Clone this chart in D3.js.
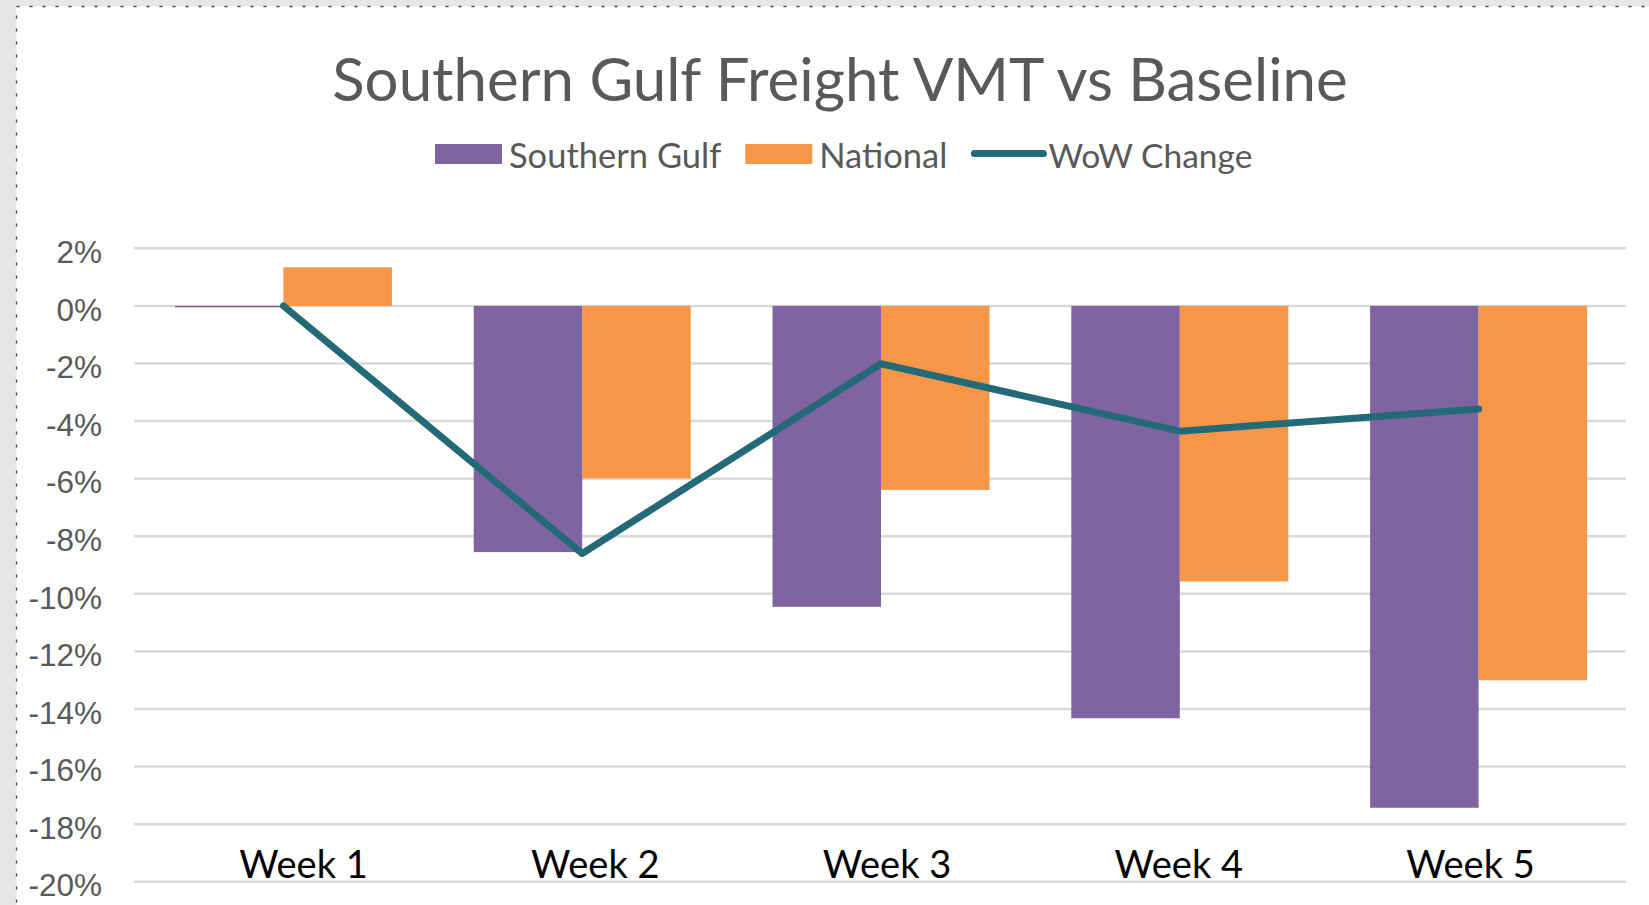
<!DOCTYPE html>
<html>
<head>
<meta charset="utf-8">
<script src="https://cdn.jsdelivr.net/npm/d3@7"></script>
<style>
  body { margin: 0; background: #e6e6e6; }
  svg { display: block; }
</style>
</head>
<body>
<div class="chartArea"></div>
<script>
const weeks = ["Week 1", "Week 2", "Week 3", "Week 4", "Week 5"];
const southernGulf = [-0.05, -8.55, -10.45, -14.32, -17.43];
const national = [1.34, -5.99, -6.39, -9.57, -13.0];
const wowChange = [0, -8.6, -2.01, -4.35, -3.58];
const yTicks = [2, 0, -2, -4, -6, -8, -10, -12, -14, -16, -18, -20];
const seriesNames = ["Southern Gulf", "National", "WoW Change"];

const width = 1649;
const height = 905;
const colors = {"Southern Gulf": "#8064a2", "National": "#f79646", "WoW Change": "#246978"};

const svg = d3.select(".chartArea")
    .append("svg")
    .attr("width", width)
    .attr("height", height);

// white chart area with dotted frame
svg.append("rect")
    .attr("x", 16.5)
    .attr("y", 6.5)
    .attr("width", width)
    .attr("height", height)
    .attr("fill", "#fff")
    .attr("stroke", "#444")
    .attr("stroke-width", 1.3)
    .attr("stroke-dasharray", "3,10");

const xScale = d3.scaleBand()
    .domain(weeks)
    .range([134, 1628])
    .padding(0);

const xInner = d3.scaleBand()
    .domain(["Southern Gulf", "National"])
    .range([0, xScale.bandwidth()])
    .paddingOuter(0.377)
    .paddingInner(0);

// the category labels sit on a slightly narrower spread than the bars
const labelScale = d3.scalePoint()
    .domain(weeks)
    .range([303, 1470]);

const yScale = d3.scaleLinear()
    .domain([-20, 2])
    .range([881.8, 248.3]);

// gridlines
svg.append("g")
    .selectAll("line")
    .data(yTicks)
    .enter()
    .append("line")
    .attr("x1", 134)
    .attr("x2", 1626)
    .attr("y1", d => yScale(d))
    .attr("y2", d => yScale(d))
    .attr("stroke", "#d9d9d9")
    .attr("stroke-width", 2.5);

const yAxis = d3.axisLeft(yScale)
    .tickValues(yTicks)
    .tickSize(0)
    .tickPadding(32)
    .tickFormat(d => d + "%");
const yG = svg.append("g")
    .attr("transform", "translate(134,0)")
    .call(yAxis);
yG.select(".domain").remove();
yG.selectAll("text")
    .attr("dy", "0.45em")
    .style("font-family", "'Liberation Sans', Arial, sans-serif")
    .style("font-size", "31.5px")
    .attr("fill", "#595959");

// bars
const barData = [];
weeks.forEach((w, i) => {
    barData.push({week: w, series: "Southern Gulf", value: southernGulf[i]});
    barData.push({week: w, series: "National", value: national[i]});
});

svg.append("g")
    .selectAll("rect")
    .data(barData)
    .enter()
    .append("rect")
    .attr("x", d => xScale(d.week) + xInner(d.series))
    .attr("y", d => yScale(Math.max(0, d.value)))
    .attr("width", xInner.bandwidth())
    .attr("height", d => Math.abs(yScale(d.value) - yScale(0)))
    .attr("fill", d => colors[d.series]);

// WoW line
const line = d3.line()
    .x((d, i) => xScale(weeks[i]) + xScale.bandwidth() / 2)
    .y(d => yScale(d));

svg.append("path")
    .datum(wowChange)
    .attr("d", line)
    .attr("fill", "none")
    .attr("stroke", colors["WoW Change"])
    .attr("stroke-width", 7)
    .attr("stroke-linejoin", "round")
    .attr("stroke-linecap", "round");

// category labels
const xAxis = d3.axisBottom(labelScale).tickSize(0).tickPadding(0);
const xG = svg.append("g")
    .attr("transform", "translate(0," + yScale(-19.88) + ")")
    .call(xAxis);
xG.select(".domain").remove();
xG.selectAll("text")
    .attr("dy", 0)
    .style("font-family", "Lato, sans-serif")
    .style("font-size", "38px")
    .attr("fill", "#000");

// title
svg.append("text")
    .attr("x", 840)
    .attr("y", 101)
    .attr("text-anchor", "middle")
    .style("font-family", "Lato, sans-serif")
    .style("font-size", "60px")
    .attr("fill", "#595959")
    .text("Southern Gulf Freight VMT vs Baseline");

// legend
const legend = svg.append("g");
let lx = 435;
seriesNames.forEach((name, i) => {
    if (name === "WoW Change") {
        legend.append("line")
            .attr("x1", lx + 3)
            .attr("x2", lx + 72)
            .attr("y1", 153.5)
            .attr("y2", 153.5)
            .attr("stroke", colors[name])
            .attr("stroke-width", 7)
            .attr("stroke-linecap", "round");
        lx += 77;
    } else {
        legend.append("rect")
            .attr("x", lx)
            .attr("y", 144)
            .attr("width", 67)
            .attr("height", 20)
            .attr("fill", colors[name]);
        lx += 74;
    }
    const t = legend.append("text")
        .attr("x", lx)
        .attr("y", 168)
        .style("font-family", "Lato, sans-serif")
        .style("font-size", name === "WoW Change" ? "33.5px" : "34.5px")
        .attr("fill", "#595959")
        .text(name);
    lx += t.node().getComputedTextLength() + 24;
});
</script>
</body>
</html>
